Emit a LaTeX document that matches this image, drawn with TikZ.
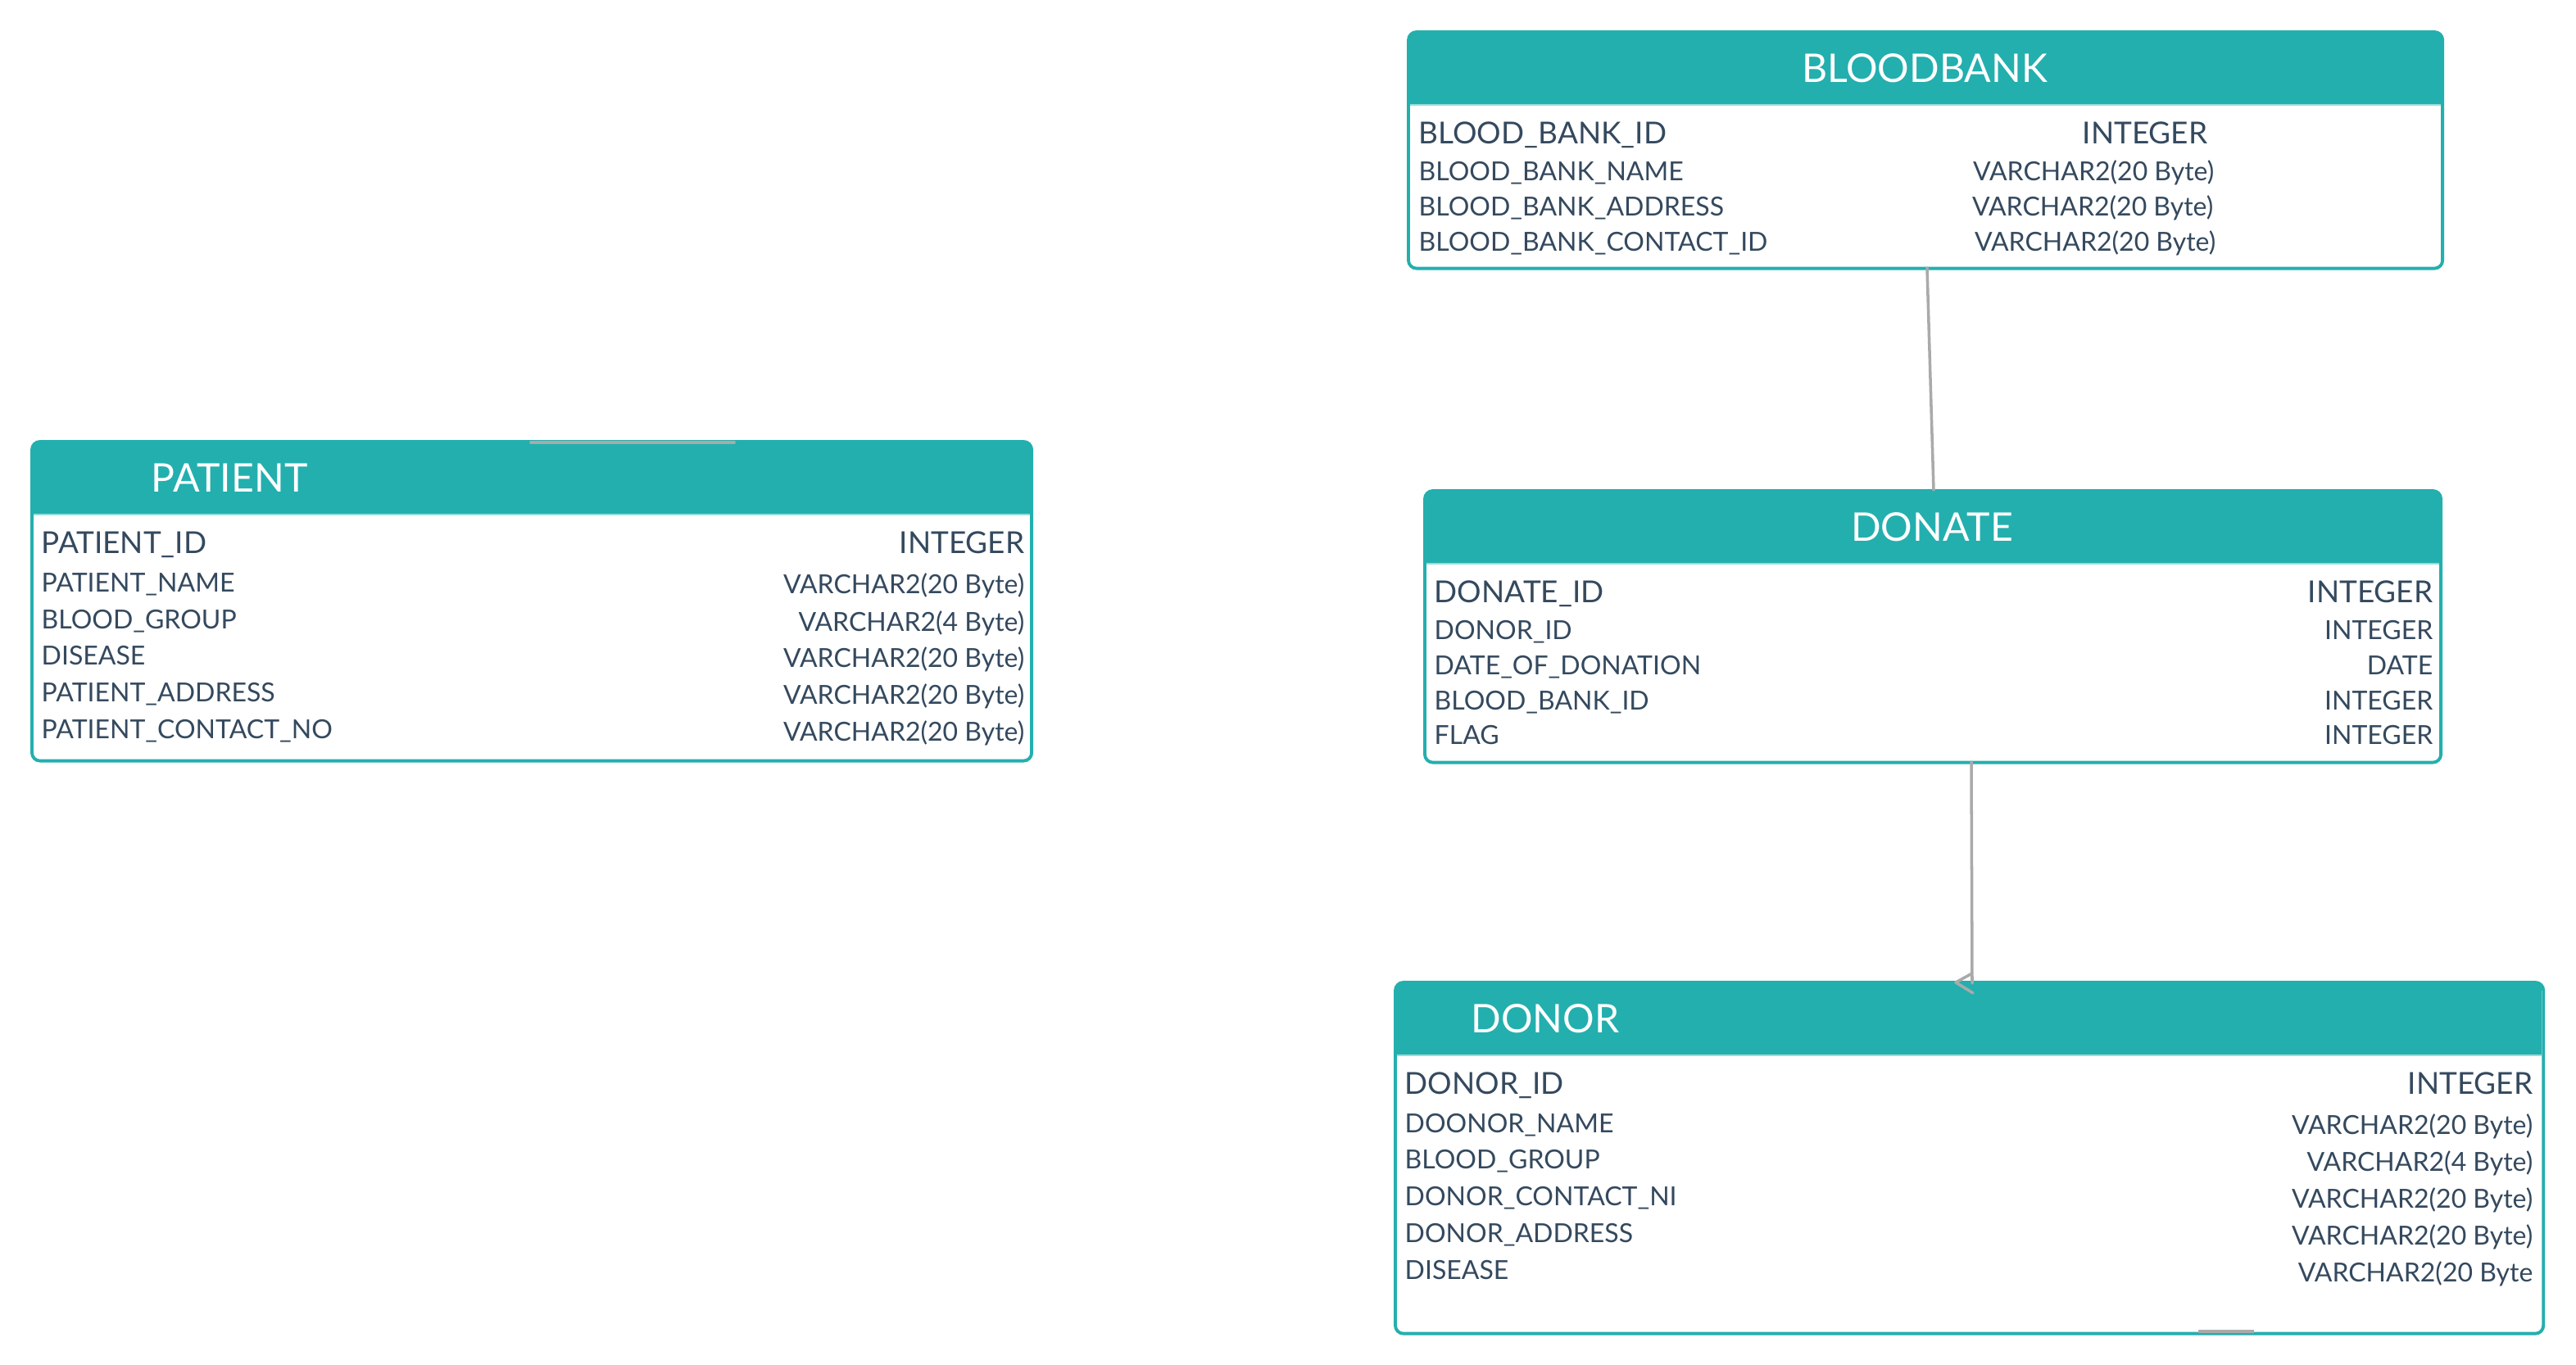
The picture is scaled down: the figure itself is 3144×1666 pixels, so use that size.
\documentclass[tikz,border=0pt]{standalone}
\usepackage{fontspec}
\setmainfont{Lato}
\definecolor{teal1}{RGB}{35,175,174}
\definecolor{tealL}{RGB}{150,220,218}
\definecolor{txt}{RGB}{52,73,94}
\definecolor{connc}{RGB}{170,170,170}
\tikzset{
  tblbox/.style={fill=white, inner sep=0pt, anchor=north west},
  tblborder/.style={draw=teal1, line width=1.1pt, rounded corners=2.8pt},
  hdr/.style={fill=teal1},
  ttl/.style={font=\fontsize{13.7}{15}\selectfont, text=white, inner sep=0pt},
  pkname/.style={font=\fontsize{10.5}{12}\selectfont, text=txt, inner sep=0pt, anchor=base west},
  pktype/.style={font=\fontsize{10.5}{12}\selectfont, text=txt, inner sep=0pt, anchor=base east},
  fname/.style={font=\fontsize{9.1}{11}\selectfont, text=txt, inner sep=0pt, anchor=base west},
  ftype/.style={font=\fontsize{9.1}{11}\selectfont, text=txt, inner sep=0pt, anchor=base east},
  conn/.style={draw=connc, line width=1pt, line cap=round, line join=round},
}
\begin{document}
\begin{tikzpicture}[x=0.01cm, y=-0.01cm]
\useasboundingbox (0,0) rectangle (3144,1666);

% ---------- PATIENT ----------
\node[tblbox, minimum width=12.18cm, minimum height=3.88cm] (patient) at (39,539) {};
\begin{scope}
\clip[rounded corners=2.8pt] (patient.north west) rectangle (patient.south east);
\fill[hdr] (patient.north west) rectangle (1257,627);
\end{scope}
\draw[tealL, line width=0.4pt] (39,628) -- (1257,628);
\draw[tblborder] (patient.north west) rectangle (patient.south east);
\node[ttl, anchor=base west] (patientT) at (184,600) {PATIENT};
\node[pkname] (p1) at (50,675) {PATIENT\_ID};
\node[pktype] (p1t) at (1251,675) {INTEGER};
\node[fname] (p2) at (50,722) {PATIENT\_NAME};
\node[ftype] (p2t) at (1251,724) {VARCHAR2(20 Byte)};
\node[fname] (p3) at (50,767) {BLOOD\_GROUP};
\node[ftype] (p3t) at (1251,770) {VARCHAR2(4 Byte)};
\node[fname] (p4) at (50,811) {DISEASE};
\node[ftype] (p4t) at (1251,814) {VARCHAR2(20 Byte)};
\node[fname] (p5) at (50,856) {PATIENT\_ADDRESS};
\node[ftype] (p5t) at (1251,859) {VARCHAR2(20 Byte)};
\node[fname] (p6) at (50,901) {PATIENT\_CONTACT\_NO};
\node[ftype] (p6t) at (1251,904) {VARCHAR2(20 Byte)};

% ---------- BLOODBANK ----------
\node[tblbox, minimum width=12.60cm, minimum height=2.87cm] (bb) at (1719,39) {};
\begin{scope}
\clip[rounded corners=2.8pt] (bb.north west) rectangle (bb.south east);
\fill[hdr] (bb.north west) rectangle (2979,127);
\end{scope}
\draw[tealL, line width=0.4pt] (1719,128) -- (2979,128);
\draw[tblborder] (bb.north west) rectangle (bb.south east);
\node[ttl, anchor=base] (bbT) at (2349,100) {BLOODBANK};
\node[pkname] (b1) at (1731,175) {BLOOD\_BANK\_ID};
\node[pktype] (b1t) at (2695,175) {INTEGER};
\node[fname] (b2) at (1731,220) {BLOOD\_BANK\_NAME};
\node[ftype] (b2t) at (2703,220) {VARCHAR2(20 Byte)};
\node[fname] (b3) at (1731,263) {BLOOD\_BANK\_ADDRESS};
\node[ftype] (b3t) at (2702,263) {VARCHAR2(20 Byte)};
\node[fname] (b4) at (1731,306) {BLOOD\_BANK\_CONTACT\_ID};
\node[ftype] (b4t) at (2705,306) {VARCHAR2(20 Byte)};

% ---------- DONATE ----------
\node[tblbox, minimum width=12.38cm, minimum height=3.30cm] (donate) at (1739,599) {};
\begin{scope}
\clip[rounded corners=2.8pt] (donate.north west) rectangle (donate.south east);
\fill[hdr] (donate.north west) rectangle (2977,687);
\end{scope}
\draw[tealL, line width=0.4pt] (1739,688) -- (2977,688);
\draw[tblborder] (donate.north west) rectangle (donate.south east);
\node[ttl, anchor=base] (donateT) at (2358,660) {DONATE};
\node[pkname] (d1) at (1750,735) {DONATE\_ID};
\node[pktype] (d1t) at (2970,735) {INTEGER};
\node[fname] (d2) at (1750,780) {DONOR\_ID};
\node[ftype] (d2t) at (2970,780) {INTEGER};
\node[fname] (d3) at (1750,823) {DATE\_OF\_DONATION};
\node[ftype] (d3t) at (2970,823) {DATE};
\node[fname] (d4) at (1750,866) {BLOOD\_BANK\_ID};
\node[ftype] (d4t) at (2970,866) {INTEGER};
\node[fname] (d5) at (1750,908) {FLAG};
\node[ftype] (d5t) at (2970,908) {INTEGER};

% ---------- DONOR ----------
\node[tblbox, minimum width=13.99cm, minimum height=4.27cm] (donor) at (1703,1199) {};
\begin{scope}
\clip[rounded corners=2.8pt] (donor.north west) rectangle (donor.south east);
\fill[hdr] (donor.north west) rectangle (3102,1287);
\end{scope}
\draw[tealL, line width=0.4pt] (1703,1288) -- (3102,1288);
\draw[tblborder] (donor.north west) rectangle (donor.south east);
\node[ttl, anchor=base west] (donorT) at (1795,1260) {DONOR};
\node[pkname] (n1) at (1714,1335) {DONOR\_ID};
\node[pktype] (n1t) at (3092,1335) {INTEGER};
\node[fname] (n2) at (1714,1382) {DOONOR\_NAME};
\node[ftype] (n2t) at (3092,1384) {VARCHAR2(20 Byte)};
\node[fname] (n3) at (1714,1426) {BLOOD\_GROUP};
\node[ftype] (n3t) at (3092,1429) {VARCHAR2(4 Byte)};
\node[fname] (n4) at (1714,1471) {DONOR\_CONTACT\_NI};
\node[ftype] (n4t) at (3092,1474) {VARCHAR2(20 Byte)};
\node[fname] (n5) at (1714,1516) {DONOR\_ADDRESS};
\node[ftype] (n5t) at (3092,1519) {VARCHAR2(20 Byte)};
\node[fname] (n6) at (1714,1561) {DISEASE};
\node[ftype] (n6t) at (3092,1564) {VARCHAR2(20 Byte};

% ---------- connectors ----------
\coordinate (bbOut) at (2352,327);
\coordinate (dnIn) at (2360,598);
\draw[conn] (bbOut) -- (dnIn);

\coordinate (dnOut) at (2406,930);
\coordinate (drIn) at (2407,1200);
\draw[conn] (dnOut) -- (drIn);
\draw[conn] (2407,1188) -- (2387,1199) -- (2408,1212);

% stub segments on borders
\coordinate (ps1) at (648,540);
\coordinate (ps2) at (896,540);
\draw[conn, line width=1.1pt] (ps1) -- (ps2);
\coordinate (ds1) at (2683,1625);
\coordinate (ds2) at (2751,1625);
\draw[conn, line width=1.1pt, line cap=butt] (ds1) -- (ds2);
\end{tikzpicture}
\end{document}
